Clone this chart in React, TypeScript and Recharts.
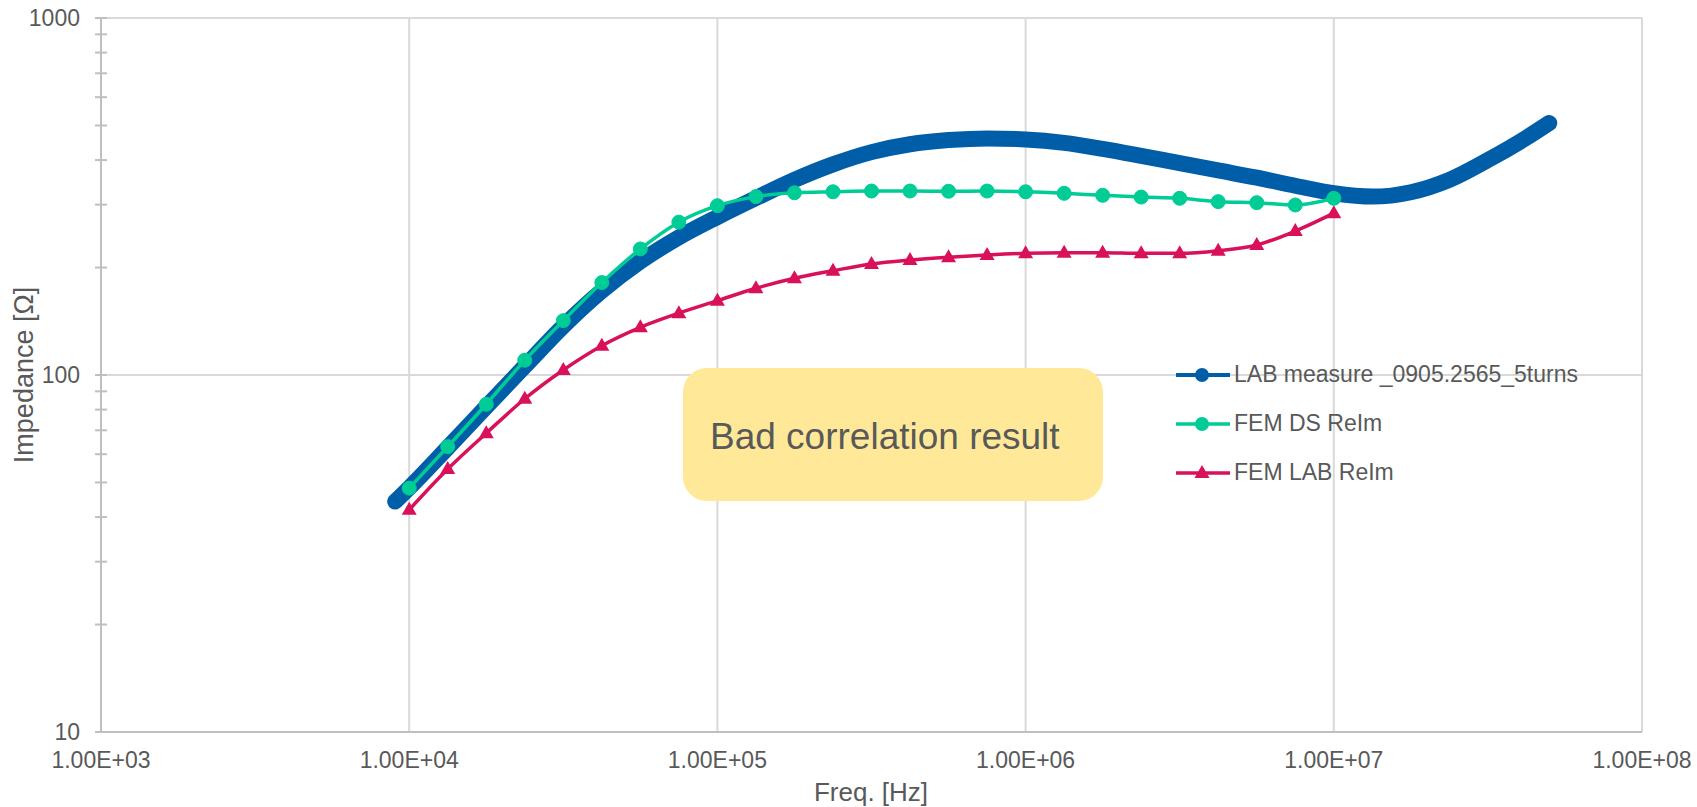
import React from 'react';
import { LineChart, Line, XAxis, YAxis, CartesianGrid, Legend } from 'recharts';

const W = 1697;
const H = 807;

// Measured impedance sweep (Hz, Ω)
const labFreq = [
  9000, 10000, 13335, 17783, 23714, 31623, 42170, 56234, 74989,
  100000, 133352, 177828, 237137, 316228, 421697, 562341, 749894,
  1000000, 1333521, 1778279, 2371374, 3162278, 4216965, 5623413, 7498942,
  10000000, 13335214, 17782794, 23713737, 31622777, 42169650, 50000000,
];
const labImpedance = [
  44.2, 48.3, 62.6, 81.5, 105.8, 137, 172, 208, 243,
  277, 313, 352, 389, 421, 443, 455, 460,
  457, 447, 430, 411, 392, 374, 357, 339,
  323, 316, 325, 352, 400, 462, 508,
];

// FEM frequency grid, 8 points per decade
const femFreq = [
  10000, 13335, 17783, 23714, 31623, 42170, 56234, 74989,
  100000, 133352, 177828, 237137, 316228, 421697, 562341, 749894,
  1000000, 1333521, 1778279, 2371374, 3162278, 4216965, 5623413, 7498942,
  10000000,
];
const femDsImpedance = [
  48.2, 63.0, 82.8, 110, 142, 181.5, 225.5, 268,
  298, 316, 324, 326, 327.6, 327.6, 327, 327.6,
  326, 322.8, 318.6, 315, 312.6, 305.9, 303.9, 299.4,
  312.6,
];
const femLabImpedance = [
  41.9, 54.5, 68.7, 85.8, 103.3, 120.8, 136, 149,
  161.5, 175, 186.6, 195.9, 204.7, 209.9, 213.7, 216.8,
  219.2, 220.1, 220.1, 219.2, 219.2, 222.9, 231.3, 253,
  284,
];

const xTicks = [1e3, 1e4, 1e5, 1e6, 1e7, 1e8];
const xTickLabels = ['1.00E+03', '1.00E+04', '1.00E+05', '1.00E+06', '1.00E+07', '1.00E+08'];
const yTicks = [
  10, 20, 30, 40, 50, 60, 70, 80, 90,
  100, 200, 300, 400, 500, 600, 700, 800, 900, 1000,
];
const yMajorTicks = [10, 100, 1000];
const yTickLabels = ['10', '100', '1000'];
const gridYValues = [100, 1000];

const seriesNames = ['LAB measure _0905.2565_5turns', 'FEM DS ReIm', 'FEM LAB ReIm'];

const BLUE = '#005EA8';
const GREEN = '#00CC96';
const RED = '#D8115A';
const TEXT = '#595959';
const AXIS = '#BFBFBF';
const GRID = '#D9D9D9';
const FONT = '"Liberation Sans", Arial, sans-serif';

const labData = labFreq.map((f, i) => ({ f, z: labImpedance[i] }));
const dsData = femFreq.map((f, i) => ({ f, z: femDsImpedance[i] }));
const femLabData = femFreq.map((f, i) => ({ f, z: femLabImpedance[i] }));

const YTick = (props: any) => {
  const { x, y, payload } = props;
  const idx = yMajorTicks.indexOf(payload.value);
  return (
    <g>
      <line x1={x - 6} x2={x + 6} y1={y} y2={y} stroke={AXIS} strokeWidth={2} />
      {idx >= 0 && (
        <text x={x - 21} y={y + 8} textAnchor="end" fontSize={23} fill={TEXT} fontFamily={FONT}>
          {yTickLabels[idx]}
        </text>
      )}
    </g>
  );
};

const XTick = (props: any) => {
  const { x, y, payload } = props;
  const idx = xTicks.indexOf(payload.value);
  return (
    <text x={x} y={y + 36} textAnchor="middle" fontSize={23} fill={TEXT} fontFamily={FONT}>
      {idx >= 0 ? xTickLabels[idx] : ''}
    </text>
  );
};

const Triangle = (props: any) => {
  const { cx, cy, index } = props;
  if (cx == null || cy == null) return <g key={index} />;
  return (
    <polygon
      key={index}
      points={`${cx},${cy - 8} ${cx - 7.5},${cy + 5} ${cx + 7.5},${cy + 5}`}
      fill={RED}
    />
  );
};

const LegendIcon = ({ kind }: { kind: number }) => {
  const color = [BLUE, GREEN, RED][kind];
  return (
    <svg width={56} height={20} style={{ display: 'block', flex: 'none' }}>
      <line x1={1} x2={55} y1={10} y2={10} stroke={color} strokeWidth={kind === 0 ? 4 : 3.5} />
      {kind < 2 ? (
        <circle cx={27} cy={10} r={7} fill={color} />
      ) : (
        <polygon points="27,2 19.5,15 34.5,15" fill={color} />
      )}
    </svg>
  );
};

const LegendContent = () => (
  <div style={{ fontFamily: FONT, fontSize: 23, color: TEXT }}>
    {seriesNames.map((name, i) => (
      <div key={name} style={{ display: 'flex', alignItems: 'center', height: 49, whiteSpace: 'nowrap' }}>
        <LegendIcon kind={i} />
        <span style={{ marginLeft: 3 }}>{name}</span>
      </div>
    ))}
  </div>
);

export default function App() {
  return (
    <div style={{ position: 'absolute', left: 0, top: 0, width: W, height: H, background: '#fff' }}>
      <LineChart width={W} height={H} margin={{ top: 18, right: 55, bottom: 0, left: 0 }}>
        <CartesianGrid
          stroke={GRID}
          strokeWidth={2}
          horizontalValues={gridYValues}
          verticalValues={xTicks}
        />
        <XAxis
          type="number"
          dataKey="f"
          scale="log"
          domain={[1e3, 1e8]}
          ticks={xTicks}
          interval={0}
          allowDataOverflow
          height={75}
          tickSize={0}
          tickMargin={0}
          tickLine={false}
          axisLine={{ stroke: AXIS, strokeWidth: 2 }}
          tick={<XTick />}
        />
        <YAxis
          type="number"
          dataKey="z"
          scale="log"
          domain={[10, 1000]}
          ticks={yTicks}
          interval={0}
          allowDataOverflow
          width={101}
          tickSize={0}
          tickMargin={0}
          tickLine={false}
          axisLine={{ stroke: AXIS, strokeWidth: 2 }}
          tick={<YTick />}
        />
        <Legend
          layout="vertical"
          align="center"
          verticalAlign="middle"
          content={<LegendContent />}
          wrapperStyle={{ left: 1175, top: 350, width: 480, height: 150 }}
        />
        <Line
          name={seriesNames[0]}
          data={labData}
          dataKey="z"
          type="monotone"
          stroke={BLUE}
          strokeWidth={16}
          strokeLinecap="round"
          strokeLinejoin="round"
          dot={false}
          activeDot={false}
          isAnimationActive={false}
        />
        <Line
          name={seriesNames[1]}
          data={dsData}
          dataKey="z"
          type="monotone"
          stroke={GREEN}
          strokeWidth={3.5}
          dot={{ r: 7, fill: GREEN, stroke: GREEN, strokeWidth: 1 }}
          activeDot={false}
          isAnimationActive={false}
        />
        <Line
          name={seriesNames[2]}
          data={femLabData}
          dataKey="z"
          type="monotone"
          stroke={RED}
          strokeWidth={3.5}
          dot={<Triangle />}
          activeDot={false}
          isAnimationActive={false}
        />
      </LineChart>
      <svg
        width={W}
        height={H}
        style={{ position: 'absolute', left: 0, top: 0, pointerEvents: 'none' }}
      >
        <rect x={683} y={368} width={420} height={133} rx={24} ry={24} fill="#FFE999" />
        <text x={710} y={449} fontSize={37} fill={TEXT} fontFamily={FONT}>
          Bad correlation result
        </text>
        <text x={871} y={801} textAnchor="middle" fontSize={26} fill={TEXT} fontFamily={FONT}>
          Freq. [Hz]
        </text>
        <text
          x={33}
          y={375}
          textAnchor="middle"
          fontSize={27}
          fill={TEXT}
          fontFamily={FONT}
          transform="rotate(-90 33 375)"
        >
          Impedance [Ω]
        </text>
      </svg>
    </div>
  );
}
